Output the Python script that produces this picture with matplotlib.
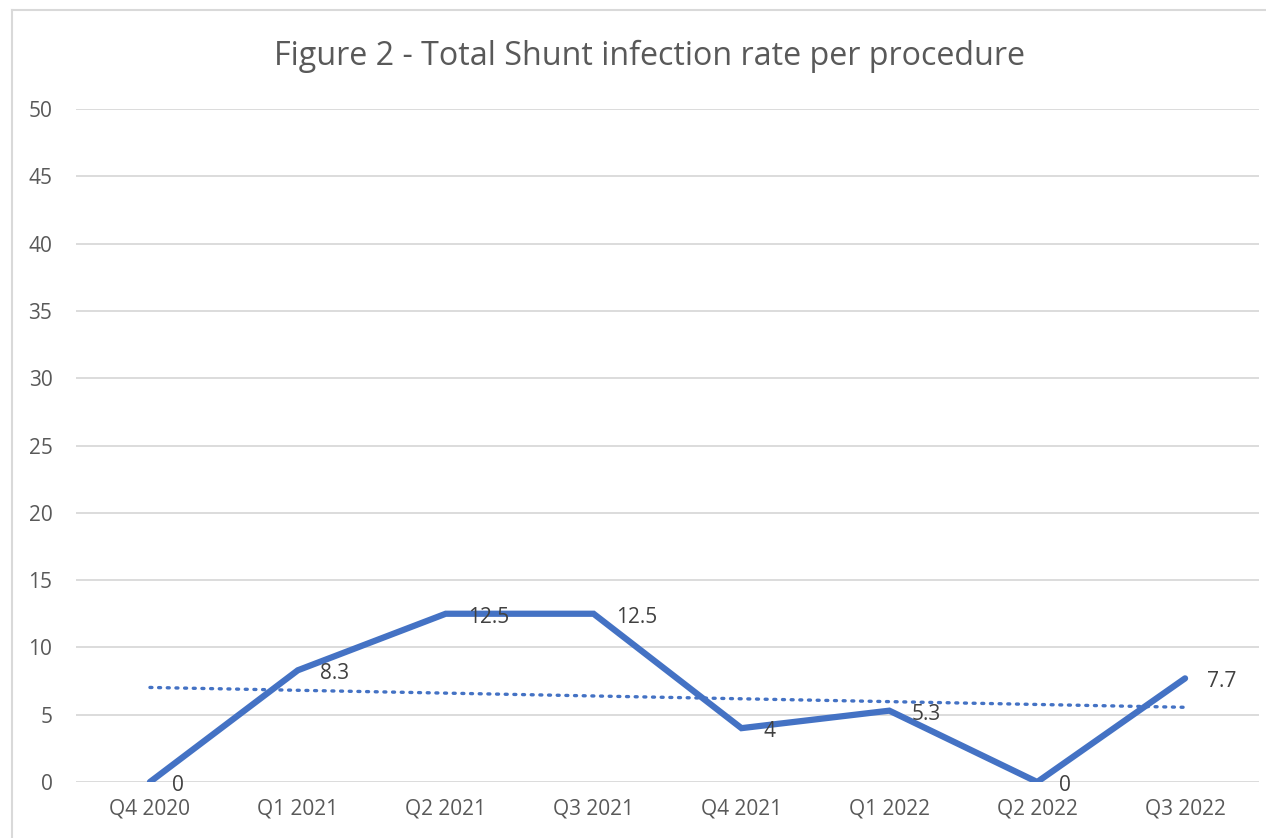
import numpy as np
import matplotlib
matplotlib.use("Agg")
import matplotlib.pyplot as plt
from matplotlib.lines import Line2D

quarters = ["Q4 2020", "Q1 2021", "Q2 2021", "Q3 2021",
            "Q4 2021", "Q1 2022", "Q2 2022", "Q3 2022"]
infection_rate = [0, 8.3, 12.5, 12.5, 4, 5.3, 0, 7.7]
y_ticks = [0, 5, 10, 15, 20, 25, 30, 35, 40, 45, 50]
title = "Figure 2 - Total Shunt infection rate per procedure"

plt.rcParams["font.family"] = ["Open Sans", "DejaVu Sans"]

W, H = 1266, 838
fig = plt.figure(figsize=(W / 100, H / 100), dpi=100)
fig.patch.set_facecolor("white")

# chart border (left and top edges visible)
fig.add_artist(Line2D([12 / W, 12 / W], [0, 1 - 10 / H], color="#D9D9D9", lw=1.5))
fig.add_artist(Line2D([12 / W, 1], [1 - 10 / H, 1 - 10 / H], color="#D9D9D9", lw=1.5))

left, right, top, bottom = 76, 1259, 109, 782
ax = fig.add_axes([left / W, 1 - bottom / H, (right - left) / W, (bottom - top) / H])

x = np.arange(len(quarters))
line_color = "#4472C4"

ax.set_xlim(-0.5, len(quarters) - 0.5)
ax.set_ylim(0, 50)
ax.set_yticks(y_ticks)
ax.set_xticks(x)
ax.set_xticklabels(quarters)
ax.grid(axis="y", color="#D9D9D9", lw=1.3)
ax.set_axisbelow(True)
for s in ax.spines.values():
    s.set_visible(False)
ax.tick_params(length=0, labelsize=15, labelcolor="#595959")
ax.tick_params(axis="y", pad=17)
ax.tick_params(axis="x", pad=12)

# linear trendline
coef = np.polyfit(x, infection_rate, 1)
trend = np.polyval(coef, x)
ax.plot(x, trend, color=line_color, lw=2.4, linestyle=(0, (0.6, 2.0)),
        dash_capstyle="round", zorder=2)

ax.plot(x, infection_rate, color=line_color, lw=4.5, solid_joinstyle="miter",
        solid_capstyle="round", zorder=3)

for xi, v in zip(x, infection_rate):
    ax.annotate(f"{v:g}", (xi, v), xytext=(16, -2.5), textcoords="offset points",
                ha="left", va="center", fontsize=15, color="#404040", zorder=4)

fig.text(650 / W, 1 - 56 / H, title, ha="center", va="center",
         fontsize=23.2, color="#595959")

fig.savefig("out.png", dpi=100)
